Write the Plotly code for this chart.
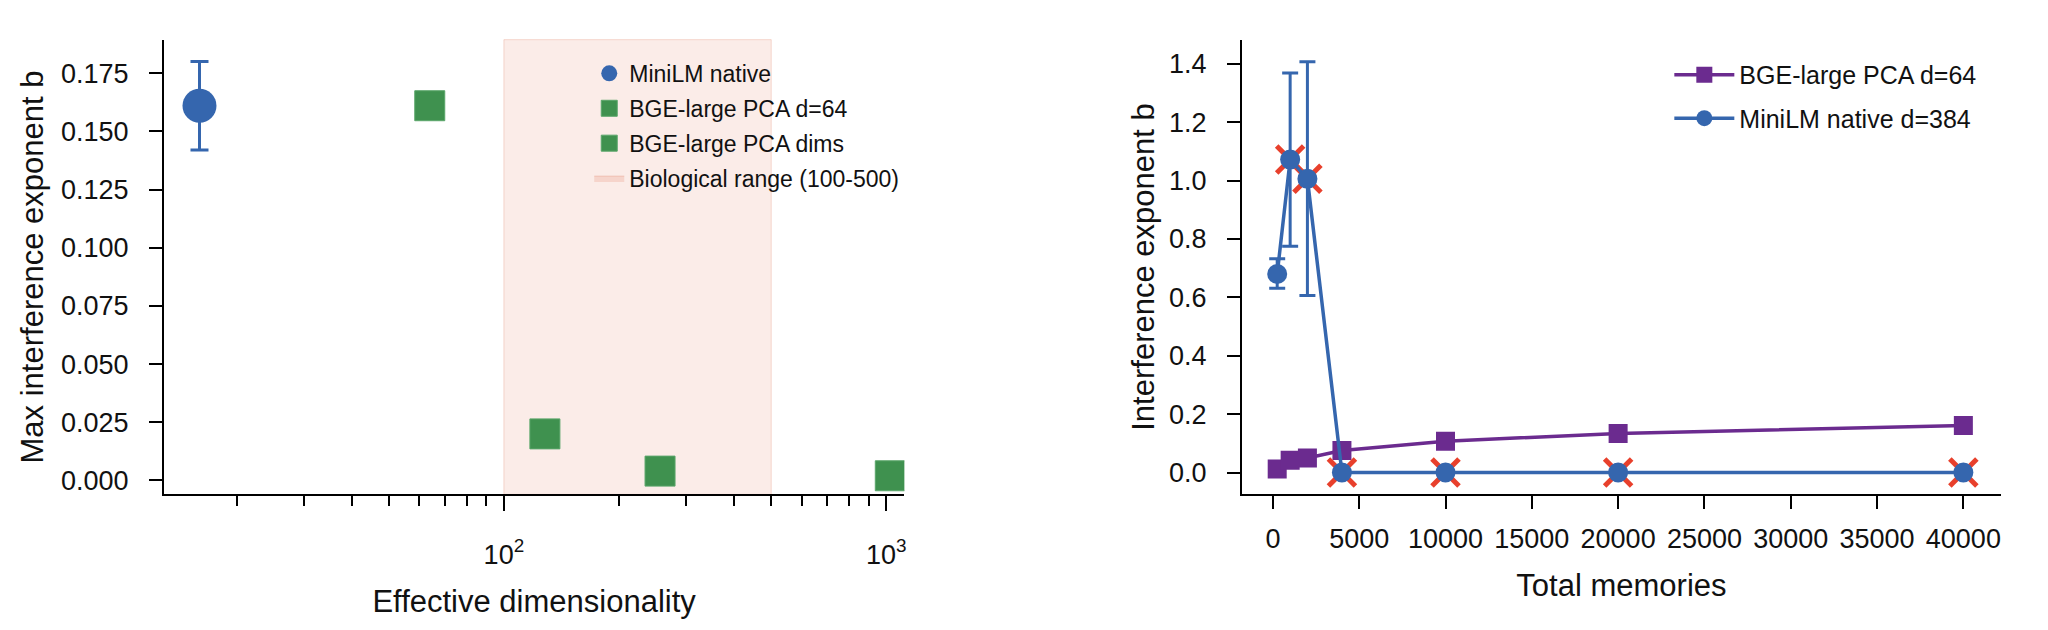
import plotly.graph_objects as go

# ---------------- data ----------------
# Left panel: max interference exponent vs effective dimensionality
minilm_dim = [16]
minilm_b = [0.161]
minilm_b_hi = [0.180]
minilm_b_lo = [0.142]

bge64_dim = [64]
bge64_b = [0.161]

bge_dims = [128, 256, 1024]
bge_dims_b = [0.020, 0.004, 0.002]

bio_range = [100, 500]

# Right panel: interference exponent vs total memories
memories = [250, 1000, 2000, 4000, 10000, 20000, 40000]
bge_b = [0.012, 0.042, 0.050, 0.075, 0.107, 0.134, 0.161]
mini_b = [0.680, 1.072, 1.006, 0.0, 0.0, 0.0, 0.0]
mini_hi = [0.732, 1.369, 1.407, 0.0, 0.0, 0.0, 0.0]
mini_lo = [0.631, 0.775, 0.606, 0.0, 0.0, 0.0, 0.0]
mini_flag = [False, True, True, True, True, True, True]

x_ticks_right = [0, 5000, 10000, 15000, 20000, 25000, 30000, 35000, 40000]
y_ticks_right = [0.0, 0.2, 0.4, 0.6, 0.8, 1.0, 1.2, 1.4]
y_ticks_left = [0.000, 0.025, 0.050, 0.075, 0.100, 0.125, 0.150, 0.175]
x_major_left = [100, 1000]
x_major_left_text = ["10<sup>2</sup>", "10<sup>3</sup>"]
x_minor_left = [20, 30, 40, 50, 60, 70, 80, 90, 200, 300, 400, 500, 600, 700, 800, 900]

# ---------------- styles ----------------
BLUE = "#3566ae"
GREEN = "#3f914f"
PURPLE = "#6b2b8f"
RED = "#e8402c"
PINK_FILL = "rgba(228,128,102,0.15)"
PINK_EDGE = "rgba(228,128,102,0.28)"
FONT = "Liberation Sans, Arial, sans-serif"
TXT = "#111111"

fig = go.Figure()

# ---- left panel ----
fig.add_trace(go.Scatter(
    x=minilm_dim, y=minilm_b, mode="markers", name="MiniLM native",
    marker=dict(symbol="circle", size=34, color=BLUE),
    error_y=dict(type="data", symmetric=False,
                 array=[h - v for h, v in zip(minilm_b_hi, minilm_b)],
                 arrayminus=[v - l for l, v in zip(minilm_b_lo, minilm_b)],
                 color=BLUE, thickness=3, width=9),
    xaxis="x", yaxis="y", legend="legend", legendgroup="a",
))
fig.add_trace(go.Scatter(
    x=bge64_dim, y=bge64_b, mode="markers", name="BGE-large PCA d=64",
    marker=dict(symbol="square", size=30, color=GREEN, line=dict(color="#5aa66a", width=1)),
    xaxis="x", yaxis="y", legend="legend", legendgroup="b",
))
fig.add_trace(go.Scatter(
    x=bge_dims, y=bge_dims_b, mode="markers", name="BGE-large PCA dims",
    marker=dict(symbol="square", size=30, color=GREEN, line=dict(color="#5aa66a", width=1)),
    xaxis="x", yaxis="y", legend="legend", legendgroup="c",
))
# legend entry for the shaded biological range
fig.add_trace(go.Scatter(
    x=[None], y=[None], mode="lines", name="Biological range (100-500)",
    fill="toself", fillcolor="rgba(228,128,102,0.22)", line=dict(color=PINK_EDGE, width=1),
    xaxis="x", yaxis="y", legend="legend", legendgroup="d",
))
fig.add_shape(type="rect", xref="x", yref="y domain",
              x0=bio_range[0], x1=bio_range[1], y0=0, y1=1,
              fillcolor=PINK_FILL, line=dict(color=PINK_EDGE, width=1), layer="below")

# ---- right panel ----
fig.add_trace(go.Scatter(
    x=memories, y=bge_b, mode="lines+markers", name="BGE-large PCA d=64",
    line=dict(color=PURPLE, width=3.5),
    marker=dict(symbol="square", size=19, color=PURPLE),
    xaxis="x2", yaxis="y2", legend="legend2", legendgroup="e",
))
flag_x = [m for m, f in zip(memories, mini_flag) if f]
flag_y = [v for v, f in zip(mini_b, mini_flag) if f]
fig.add_trace(go.Scatter(
    x=flag_x, y=flag_y, mode="markers", showlegend=False,
    marker=dict(symbol="x-thin", size=27, line=dict(color=RED, width=5)),
    xaxis="x2", yaxis="y2", hoverinfo="skip",
))
err_up = [(h - v) if h > 0 else None for h, v in zip(mini_hi, mini_b)]
err_dn = [(v - l) if l > 0 else None for l, v in zip(mini_lo, mini_b)]
fig.add_trace(go.Scatter(
    x=memories, y=mini_b, mode="lines+markers", name="MiniLM native d=384",
    line=dict(color=BLUE, width=3.5),
    marker=dict(symbol="circle", size=20, color=BLUE),
    error_y=dict(type="data", symmetric=False, array=err_up, arrayminus=err_dn,
                 color=BLUE, thickness=3, width=8),
    xaxis="x2", yaxis="y2", legend="legend2", legendgroup="f",
))

axis_common = dict(showline=True, linecolor="black", linewidth=2, ticks="outside",
                   tickcolor="black", tickwidth=2, showgrid=False, zeroline=False,
                   mirror=False)

fig.update_layout(
    width=2048, height=630,
    margin=dict(l=0, r=0, t=0, b=0),
    paper_bgcolor="white", plot_bgcolor="white",
    font=dict(family=FONT, color=TXT),
    xaxis=dict(**axis_common, domain=[0.0801, 0.442], type="log",
               range=[1.111, 3.047], tickvals=x_major_left, ticktext=x_major_left_text,
               ticklen=15, tickfont=dict(size=27), ticklabelstandoff=20,
               minor=dict(tickvals=x_minor_left, ticks="outside", ticklen=10,
                          tickwidth=1.8, tickcolor="black"),
               title=dict(text="Effective dimensionality", font=dict(size=31), standoff=22),
               anchor="y"),
    yaxis=dict(**axis_common, domain=[0.214, 0.937], range=[-0.006, 0.1894],
               tickvals=y_ticks_left, tickformat=".3f", ticklen=13,
               tickfont=dict(size=27), ticklabelstandoff=15,
               title=dict(text="Max interference exponent b", font=dict(size=31), standoff=8),
               anchor="x"),
    xaxis2=dict(**axis_common, domain=[0.607, 0.978], range=[-1794, 42180],
                tickvals=x_ticks_right, tickformat="d", ticklen=13,
                tickfont=dict(size=27), ticklabelstandoff=6,
                title=dict(text="Total memories", font=dict(size=31), standoff=22),
                anchor="y2"),
    yaxis2=dict(**axis_common, domain=[0.214, 0.937], range=[-0.075, 1.483],
                tickvals=y_ticks_right, tickformat=".1f", ticklen=13,
                tickfont=dict(size=27), ticklabelstandoff=15,
                title=dict(text="Interference exponent b", font=dict(size=31), standoff=5),
                anchor="x2"),
    legend=dict(x=0.288, y=1 - 52 / 630, xanchor="left", yanchor="top",
                bgcolor="rgba(0,0,0,0)", font=dict(size=23), tracegroupgap=2,
                itemsizing="trace"),
    legend2=dict(x=0.8159, y=1 - 52 / 630, xanchor="left", yanchor="top",
                 bgcolor="rgba(0,0,0,0)", font=dict(size=25), tracegroupgap=8,
                 itemsizing="trace", itemwidth=60),
    showlegend=True,
)

fig.write_html("out.html")
